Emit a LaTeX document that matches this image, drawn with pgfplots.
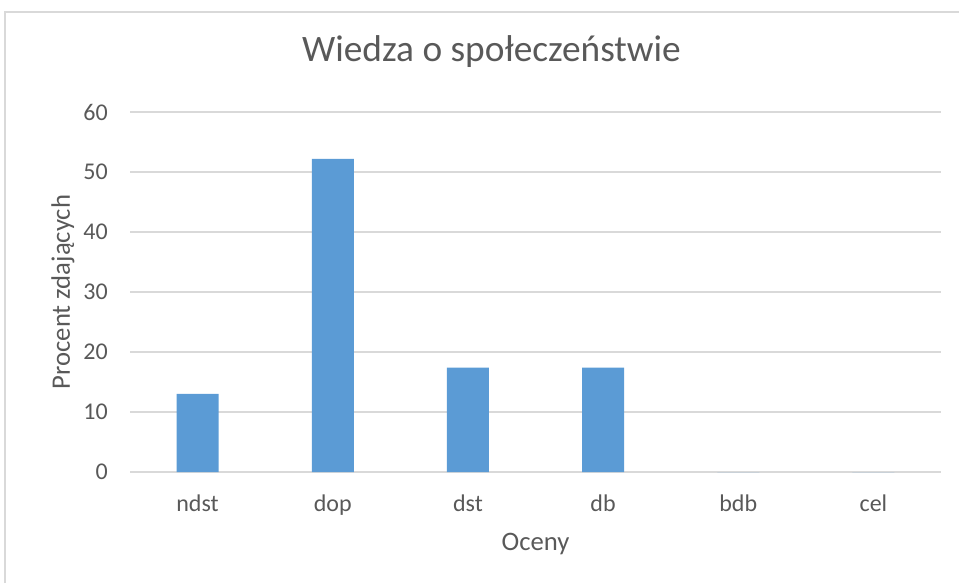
\documentclass[border=0pt]{standalone}
\usepackage{fontspec}
\setmainfont{Carlito}
\usepackage{pgfplots}
\pgfplotsset{compat=1.18}
\definecolor{barblue}{HTML}{5B9BD5}
\definecolor{txt}{HTML}{595959}
\definecolor{grd}{HTML}{D9D9D9}
\begin{document}
\begin{tikzpicture}[x=0.75pt,y=0.75pt]
\useasboundingbox (0,0) rectangle (959,583);
\draw[grd, line width=1.5pt] (5,0) -- (5,571) -- (959,571);
\begin{axis}[
  at={(97.5pt,83.25pt)}, anchor=south west,
  scale only axis, width=608.25pt, height=270pt,
  xmin=-0.5, xmax=5.5, ymin=0, ymax=60,
  ytick={0,10,...,60},
  xtick={0,1,2,3,4,5},
  xticklabels={ndst,dop,dst,db,bdb,cel},
  axis line style={draw=none},
  major tick length=0pt,
  ymajorgrids, grid style={grd, line width=1.5pt},
  /pgf/number format/assume math mode=true,
  tick label style={font=\fontsize{18}{20}\selectfont, text=txt, inner sep=0pt},
  xticklabel style={anchor=base, yshift=-29.25pt},
  yticklabel style={anchor=east, xshift=-16.5pt},
  ylabel={Procent zdających},
  xlabel={Oceny},
  label style={font=\fontsize{20}{22}\selectfont, text=txt, inner sep=0pt},
  ylabel style={at={(axis description cs:-0.0826,0.5)}, anchor=center, rotate=0},
  xlabel style={at={(axis description cs:0.5,-0.219)}, anchor=base},
  title={Wiedza o społeczeństwie},
  title style={at={(axis description cs:0.4457,1.1167)}, anchor=base, font=\fontsize{28}{30}\selectfont, text=txt, inner sep=0pt},
  clip=false,
]
\addplot[ybar, bar width=31.5pt, fill=barblue, draw=none] coordinates {
  (0,13.04) (1,52.17) (2,17.39) (3,17.39) (4,0) (5,0)
};
\end{axis}
\end{tikzpicture}
\end{document}
